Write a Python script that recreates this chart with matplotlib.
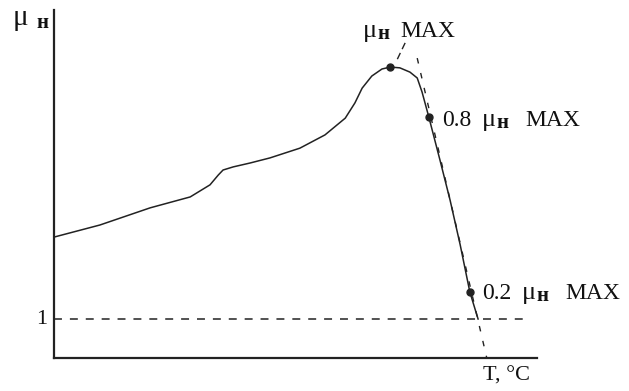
import matplotlib
matplotlib.use("Agg")
import matplotlib.pyplot as plt

plt.rcParams['font.family'] = ['Liberation Serif', 'DejaVu Serif']

# curve: temperature (arbitrary units) vs permeability mu_n
T = [0, 9.5, 19.9, 28.2, 32.3, 34.0, 35.0, 37.1, 40.6, 44.7, 50.9, 56.1, 60.3,
     62.3, 63.8, 65.8, 67.9, 69.6, 71.6, 73.7, 75.2, 76.2, 77.6, 79.9, 82.0,
     84.1, 86.1, 87.8]
mu = [3.10, 3.41, 3.85, 4.13, 4.44, 4.69, 4.82, 4.90, 5.00, 5.13, 5.38, 5.72,
      6.15, 6.54, 6.92, 7.23, 7.41, 7.46, 7.44, 7.33, 7.18, 6.82, 6.18, 5.08,
      4.05, 2.90, 1.69, 1.00]

# marked points: max, 0.8 max, 0.2 max
dot_T = [69.6, 77.6, 86.1]
dot_mu = [7.46, 6.18, 1.69]

# tangent line (dashed)
tan_T = [75.2, 89.6]
tan_mu = [7.69, 0.0]

# leader to max label
lead_T = [72.7, 71.0]
lead_mu = [8.08, 7.64]

# reference level mu = 1
ref_level = 1.0
ref_T = [0, 97.9]

# label texts
lbl_prefix = ['', '0.8', '0.2']
W, H = 629, 391

fig = plt.figure(figsize=(W / 100, H / 100), dpi=100)
ax = fig.add_axes([54 / W, (H - 358) / H, 483 / W, 348 / H])
ax.set_xlim(0, 100)
ax.set_ylim(0, 348 / 39)

for s in ['top', 'right']:
    ax.spines[s].set_visible(False)
for s in ['left', 'bottom']:
    ax.spines[s].set_linewidth(1.6)
    ax.spines[s].set_color('#222222')
ax.set_xticks([])
ax.set_yticks([])

ax.plot(T, mu, color='#222222', lw=1.1)
ax.plot(ref_T, [ref_level, ref_level], color='#222222', lw=1.1,
        dashes=(5.2, 5.2))
ax.plot(tan_T, tan_mu, color='#222222', lw=1.0, dashes=(4, 7))
ax.plot(lead_T, lead_mu, color='#222222', lw=1.0, dashes=(5, 3))
ax.plot(dot_T, dot_mu, 'o', color='#222222', ms=5, clip_on=False)

fs = 17


def put(x, y, s, size=fs, **kw):
    fig.text(x / W, 1 - y / H, s, fontsize=size, va='baseline', ha='left',
             color='#111111', **kw)


def mu_label(x_num, x_mu, x_n, x_max, base, num):
    if num:
        put(x_num, base, num)
    put(x_mu, base, 'μ', size=19)
    put(x_n, base + 2, 'н', size=15, fontweight='bold')
    put(x_max, base, 'MAX')


mu_label(None, 363, 377, 400, 37, lbl_prefix[0])
mu_label(442, 482, 496, 525, 126, lbl_prefix[1])
mu_label(482, 522, 536, 565, 299, lbl_prefix[2])

put(483, 381, 'T, °C', size=16)
fig.text(47 / W, 1 - 319 / H, '1', fontsize=16, va='center', ha='right',
         color='#111111')
put(13, 25, 'μ', size=21)
put(36, 28, 'н', size=15, fontweight='bold')

fig.savefig('out.png', dpi=100)
